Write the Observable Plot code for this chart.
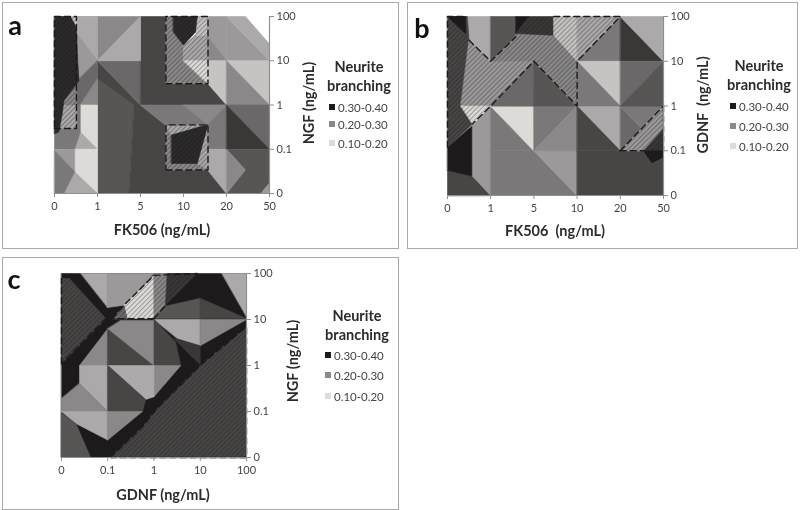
<!DOCTYPE html>
<html><head><meta charset="utf-8">
<script src="https://cdn.jsdelivr.net/npm/d3@7"></script>
<script src="https://cdn.jsdelivr.net/npm/@observablehq/plot@0.6"></script>
<style>
html,body{margin:0;padding:0;background:#fff;overflow:hidden}
#page{position:relative;width:800px;height:510px;font-family:Lato,sans-serif;color:#333;filter:blur(.45px)}
.frame{position:absolute;border:1.5px solid #a9a9a9;box-sizing:border-box}
.t{position:absolute;white-space:pre;transform:translate(-50%,-50%);font-weight:700;font-size:14.5px;color:#2b2b2b}
.l{position:absolute;white-space:pre;transform:translateY(-50%);font-size:11.5px;color:#444}
.s{position:absolute;width:6px;height:6px}
svg.p{position:absolute;overflow:visible}
</style></head><body>
<svg width="0" height="0" style="position:absolute"><defs>
<pattern id="hatch" width="3.4" height="3.4" patternUnits="userSpaceOnUse" patternTransform="rotate(-45)">
<rect width="3.4" height="1.1" fill="rgba(20,20,20,.32)"></rect></pattern></defs></svg>
<div id="page"></div>
<script>
const toneNames = ["k","d0","d1","d2","d3","d4","m1","m2","m3","l1","l2","l3"];
const toneColors = ["#1c1a1a","#2c2a2a","#3a3737","#484545","#585555","#6a6868","#7a7878","#8a8888","#9b9999","#aba9a9","#c7c3c3","#dedad8"];
const xLabelsFK = ["0","1","5","10","20","50"];
const xLabelsGDNF = ["0","0.1","1","10","100"];
const yLabels = ["0","0.1","1","10","100"];
const legendRanges = ["0.30-0.40","0.20-0.30","0.10-0.20"];
const legendTones = ["#1c1a1a","#8a8888","#dedad8"];

const aShapes = [
["l1",[0,2,1,2,1,4,0,4]],
["d3",[1,0,1.73,0,1.85,2,1,2.59]],
["d2",[1.73,0,4,0,3.56,.53,3.56,1.56,2.59,1.54,2,2,1.85,2]],
["d2",[1,3,2,2,1.85,2,1,2.59]],
["d4",[1,3,2,3,2,2]],
["d2",[2,4,2.59,4,2.59,2.48,3.57,2.48,4,2,2,2]],
["m1",[2,2,4,2,4,1,3.56,1,3.56,1.56,2.59,1.54]],
["m2",[3,2,4,2,3.56,1.56]],
["l1",[3.56,1,4,1,4,0,3.56,.53]],
["m2",[1,4,2,4,1,3]],
["l1",[2,4,2,3,1,3]],
["l1",[.4,4,1,4,1,3,.53,3.6]],
["m3",[.53,3.6,1,3,.53,2.55]],
["d4",[1,3,1,2.59,.6,2,.4,2,.53,2.55]],
["m2",[1,2.59,1,2,.6,2]],
["l3",[.6,2,1,2,1,1,.6,1.39]],
["l1",[.6,1.39,1,1,.47,1]],
["m1",[0,1,0,2,.6,2,.6,1.39,.47,1]],
["l3",[.47,1,1,1,1,0,.47,.49]],
["l1",[.47,.49,1,0,.22,0]],
["m3",[0,.98,.47,1,.47,.49]],
["m1",[0,.98,.47,.49,.22,0,0,0]],
["m3",[3.57,4,4,4,4,3,3.57,3.55]],
["m2",[3.57,3.55,4,3,3.57,3]],
["m3",[4,4,5,3,4,3]],
["l1",[4,4,4.44,4,5,3.38,5,3]],
["l2",[3.57,3,4,3,4,2,3.57,2.48]],
["l2",[4,3,5,3,5,2]],
["m2",[4,3,5,2,4,2]],
["d4",[4,2,5,2,5,1]],
["d1",[4,2,5,1,4,1]],
["d3",[4,1,5,1,5,.23,4.8,0,4,0,4.44,.53]],
["m2",[4,1,4.44,.53,4,0]],
["m3",[5,.23,5,0,4.8,0]],
// hatched box interiors
["m2",[2.59,.53,3.57,.53,3.57,1.56,2.59,1.53]],
["l1",[2.59,1.53,3.57,1.56,2.72,1.32]],
["l1",[3.57,1.56,3.57,.53,3.32,.68]],
["d0",[2.72,1.32,3.57,1.56,3.32,.68,2.72,.68]],
["m2",[2.59,4,2.76,4,2.76,3.65,3,3.35,3,3,3.57,2.48,2.59,2.48]],
["l1",[3.28,3.57,3.57,3.57,3.57,3,3,3,3,3.35]],
["l2",[3.32,4,3.57,4,3.57,3.57,3.28,3.57]],
["l3",[3,3,3.57,3,3.57,2.48]],
["d0",[2.76,4,3.32,4,3.28,3.65,3,3.35,2.76,3.65]],
["l1",[.18,2,.51,2,.51,1.47,.05,1.47]],
["m2",[.18,2,.51,2,.51,2.55,.22,2.1]],
["l2",[.37,4,.51,4,.51,3.75]],
["d0",[0,4,.37,4,.51,3.75,.54,3,.57,2.55,.22,2.1,.18,1.8,.1,1.39,0,1.35]]
];
const aHatch = [
[0,1.47,.51,1.47,.51,4,0,4],
[2.59,2.48,3.57,2.48,3.57,4,2.59,4],
[2.59,.53,3.57,.53,3.57,1.55,2.59,1.55]
];
const aDash = [
[0,1.47,.51,1.47,.51,4,0,4,0,1.47],
[2.59,2.48,3.57,2.48,3.57,4,2.59,4,2.59,2.48],
[2.59,.53,3.57,.53,3.57,1.55,2.59,1.55,2.59,.53]
];

const bShapes = [
["d2",[0,0,0,.56,.58,.43,1,0]],
["k",[0,1.08,.58,1.57,.58,.43,0,.56]],
["m3",[.58,1.57,1,2,1,0,.58,.43]],
["m1",[1,2,2,1,1,1]],
["m1",[1,1,2,1,3,0,1,0]],
["m3",[2,1,3,1,3,0]],
["l3",[1,2,2,2,2,1]],
["m1",[2,2,3,2,2,1]],
["m2",[3,2,3,1,2,1]],
["l1",[3,2,4,2,4,1]],
["d2",[3,2,4,1,3,1]],
["d2",[3,1,5,1,5,0,3,0]],
["d4",[4,2,4.5,1.49,4,1]],
["m1",[4,2,5,2,4.5,1.49]],
["d4",[1,2,2,3,2,2]],
["d3",[2,3,3,2,2,2]],
["m2",[2,3,3,3,3,2]],
["l1",[.42,4,1,4,1,3,.5,3.47]],
["d3",[1,4,1.58,4,1.58,3.54,1,3]],
["m1",[3,3,4,4,4,3]],
["d1",[4,4,5,3,4,3]],
["l1",[4,4,5,4,5,3]],
["l2",[3,3,4,3,4,2]],
["m1",[3,3,4,2,3,2]],
["d4",[4,3,5,3,4,2]],
["d3",[4,2,5,3,5,2]],
// hatched band
["d2",[0,4,.46,4,.5,3.47,.31,2,.58,1.6,0,1.08]],
["m3",[.31,2,1,2,2,3,1,3,.5,3.47]],
["l3",[.31,2,1,2,.58,1.6]],
["k",[0,4,.42,4,.42,3.62]],
["m2",[1,3,1.58,3.54,1.58,3.62,2.46,3.62,3,3,2,3]],
["d1",[1.88,4,2.46,4,2.46,3.58,1.58,3.62]],
["k",[1.58,4,1.88,4,1.58,3.62]],
["l2",[2.46,4,3,4,3,3,2.46,3.58]],
["l1",[3,4,4,4,3,3]],
["m2",[2,3,3,3,3,2]],
["m3",[4,1,5,2,5,1]],
["d1",[4.54,1,5,1.49,5,1]],
["k",[4.54,1,4.73,.73,5,.86,5,1]]
];
const bHatch = [
[0,4,.42,4,.5,3.47,1,3,1.58,3.54,1.58,4,4,4,3,3,3,2,2,3,1,2,.58,1.6,0,1.08],
[4,1,5,2,5,1]
];
const bDash = [
[0,1.08,0,4,.42,4],
[.5,3.47,1,3,1.58,3.54],
[2.46,4,4,4,3,3,3,2,2,3,1,2,.58,1.6],
[4,1,5,2],
[4,1,4.54,1],
[5,2,5,1]
];

const cShapes = [
["k",[0,0,4,0,4,4,0,4]],
["d2",[1.06,0,1.78,.7,2.07,1.07,3.01,2.01,4,2.84,4,0]],
["d2",[0,2.04,0,3.89,.17,3.89,.96,3.02]],
["l1",[.42,4,1,4,1,3.26]],
["m3",[1,4,2,4,1.35,3.31,1,3.26]],
["l3",[1.35,3.31,2,3.96,2,3.02,1.42,3.02]],
["d4",[1.1,3.02,1.35,3.31,1.42,3.02]],
["m2",[2,4,2.29,4,2.25,3.31,2,3.02]],
["d1",[2.29,4,2.93,4,2.25,3.31]],
["l1",[3.47,4,4,4,4,3.06]],
["d3",[2.25,3.29,3,3.46,3,3.02,2,3.02]],
["d2",[3,3.46,4,3.02,3,3.02]],
["l1",[2,3,3,3,3,2.43,2.5,2.59]],
["m2",[3,3,4,3,3,2.43]],
["d1",[2.43,2.59,3,2.43,3,2.02,2.79,2.22]],
["m2",[1,2.8,.39,2,1,2]],
["d2",[1,2.8,2,2,1,2]],
["m2",[1.28,2.98,2,2.98,2,2,1,2.8]],
["d2",[2,3,2,2,2.58,2,2.47,2.5]],
["m2",[2,2,2.58,2,2,1.32]],
["l1",[1,2,2,2,2,1.32,1.82,1.26]],
["l1",[1,2,.39,2,.39,1.61,1,1]],
["d2",[1,2,1.82,1.26,1.75,1,1,1]],
["m2",[.39,1.61,1,1,0,1,0,1.28]],
["l1",[0,1,1,1,1,.38,.31,.74]],
["m2",[1,1,1.75,1,1,.38]],
["d3",[0,.96,.31,.74,.63,0,0,0]]
];
const cHatch = [
[1.06,0,1.78,.7,2.07,1.07,3.01,2.01,4,2.84,4,0],
[0,2.04,0,3.89,.17,3.89,.96,3.02],
[1.1,3.02,1.35,3.31,2,3.96,2.93,4,2.25,3.31,2,3.02]
];
const cDash = [
[1.06,0,1.78,.7,2.07,1.07,3.01,2.01,4,2.84,4,0,1.06,0],
[0,2.04,0,3.89],
[.96,3.02,0,2.04],
[1.1,3.02,1.35,3.31,2,3.96,2.93,4],
[2,3.02,1.1,3.02],
[2,3.02,2.25,3.31]
];

const table = (polys, tone) => polys.flatMap((p, i) => {
  const pts = tone ? p[1] : p, rows = [];
  for (let j = 0; j < pts.length; j += 2) rows.push({id: i, x: pts[j], y: pts[j + 1], tone: tone ? p[0] : null});
  return rows;
});

const page = document.getElementById("page");
function add(cls, css, text) {
  const e = document.createElement("div");
  e.className = cls; e.style.cssText = css; if (text != null) e.textContent = text;
  page.appendChild(e); return e;
}

function panel(o) {
  add("frame", `left:${o.frame[0]}px;top:${o.frame[1]}px;width:${o.frame[2]}px;height:${o.frame[3]}px`);
  const mL = 14, mR = 40, mT = 10, mB = 26;
  const axisC = "#8f8f8f";
  const nx = o.xLabels.length - 1, ny = o.yLabels.length - 1;
  const svg = Plot.plot({
    width: o.box[2] + mL + mR, height: o.box[3] + mT + mB,
    marginLeft: mL, marginRight: mR, marginTop: mT, marginBottom: mB,
    style: {background: "transparent", fontFamily: "Lato,sans-serif", overflow: "visible"},
    x: {domain: [0, nx]}, y: {domain: [0, ny]},
    color: {type: "ordinal", domain: toneNames, range: toneColors},
    marks: [
      Plot.line(table(o.shapes, true), {x: "x", y: "y", z: "id", fill: "tone", stroke: "tone", strokeWidth: .6, curve: "linear-closed"}),
      Plot.line(table(o.hatch), {x: "x", y: "y", z: "id", fill: "url(#hatch)", stroke: "none", curve: "linear-closed"}),
      Plot.line(table(o.dash), {x: "x", y: "y", z: "id", stroke: "#1c1a1a", strokeWidth: 1.4, strokeDasharray: "6,4"}),
      Plot.ruleX([nx], {stroke: axisC, strokeWidth: 1.2}),
      Plot.ruleY([0], {stroke: axisC, strokeWidth: 1.2}),
      Plot.axisX({anchor: "bottom", ticks: d3.range(nx + 1), tickFormat: i => o.xLabels[i], label: null, tickSize: 4, tickPadding: 5, stroke: axisC, color: "#444", fontSize: 11}),
      Plot.axisY({anchor: "right", ticks: d3.range(ny + 1), tickFormat: i => o.yLabels[i], label: null, tickSize: 4, tickPadding: 3, stroke: axisC, color: "#444", fontSize: 11})
    ]
  });
  svg.setAttribute("class", "p");
  svg.style.left = (o.box[0] - mL) + "px";
  svg.style.top = (o.box[1] - mT) + "px";
  page.appendChild(svg);
  add("t", `left:${o.letter[0]}px;top:${o.letter[1]}px;font-size:27px;color:#111`, o.name);
  add("t", `left:${o.xT[0]}px;top:${o.xT[1]}px`, o.xTitle);
  add("t", `left:${o.yT[0]}px;top:${o.yT[1]}px;transform:translate(-50%,-50%) rotate(-90deg)`, o.yTitle);
  add("t", `left:${o.leg.x}px;top:${o.leg.y[0]}px`, "Neurite");
  add("t", `left:${o.leg.x}px;top:${o.leg.y[1]}px`, "branching");
  legendRanges.forEach((r, i) => {
    add("s", `left:${o.leg.sx}px;top:${o.leg.iy[i] - 3}px;background:${legendTones[i]}`);
    add("l", `left:${o.leg.sx + 9}px;top:${o.leg.iy[i]}px`, r);
  });
}

panel({name: "a", frame: [2, 2, 397, 247], box: [54, 16, 215, 177], letter: [15, 24],
  xLabels: xLabelsFK, yLabels, shapes: aShapes, hatch: aHatch, dash: aDash,
  xTitle: "FK506 (ng/mL)", xT: [162, 229], yTitle: "NGF (ng/mL)", yT: [308, 103],
  leg: {x: 359, y: [66, 85], sx: 329, iy: [107, 124, 143]}});
panel({name: "b", frame: [407, 2, 391, 247], box: [447, 16, 216, 179], letter: [422, 27],
  xLabels: xLabelsFK, yLabels, shapes: bShapes, hatch: bHatch, dash: bDash,
  xTitle: "FK506  (ng/mL)", xT: [555, 230], yTitle: "GDNF  (ng/mL)", yT: [702, 105],
  leg: {x: 759, y: [65, 84], sx: 730, iy: [106, 126, 146]}});
panel({name: "c", frame: [2, 257, 397, 253], box: [61, 273, 185, 184], letter: [14, 278],
  xLabels: xLabelsGDNF, yLabels, shapes: cShapes, hatch: cHatch, dash: cDash,
  xTitle: "GDNF (ng/mL)", xT: [163, 494], yTitle: "NGF (ng/mL)", yT: [292, 361],
  leg: {x: 357, y: [315, 334], sx: 325, iy: [355, 375, 396]}});
</script>
</body></html>
